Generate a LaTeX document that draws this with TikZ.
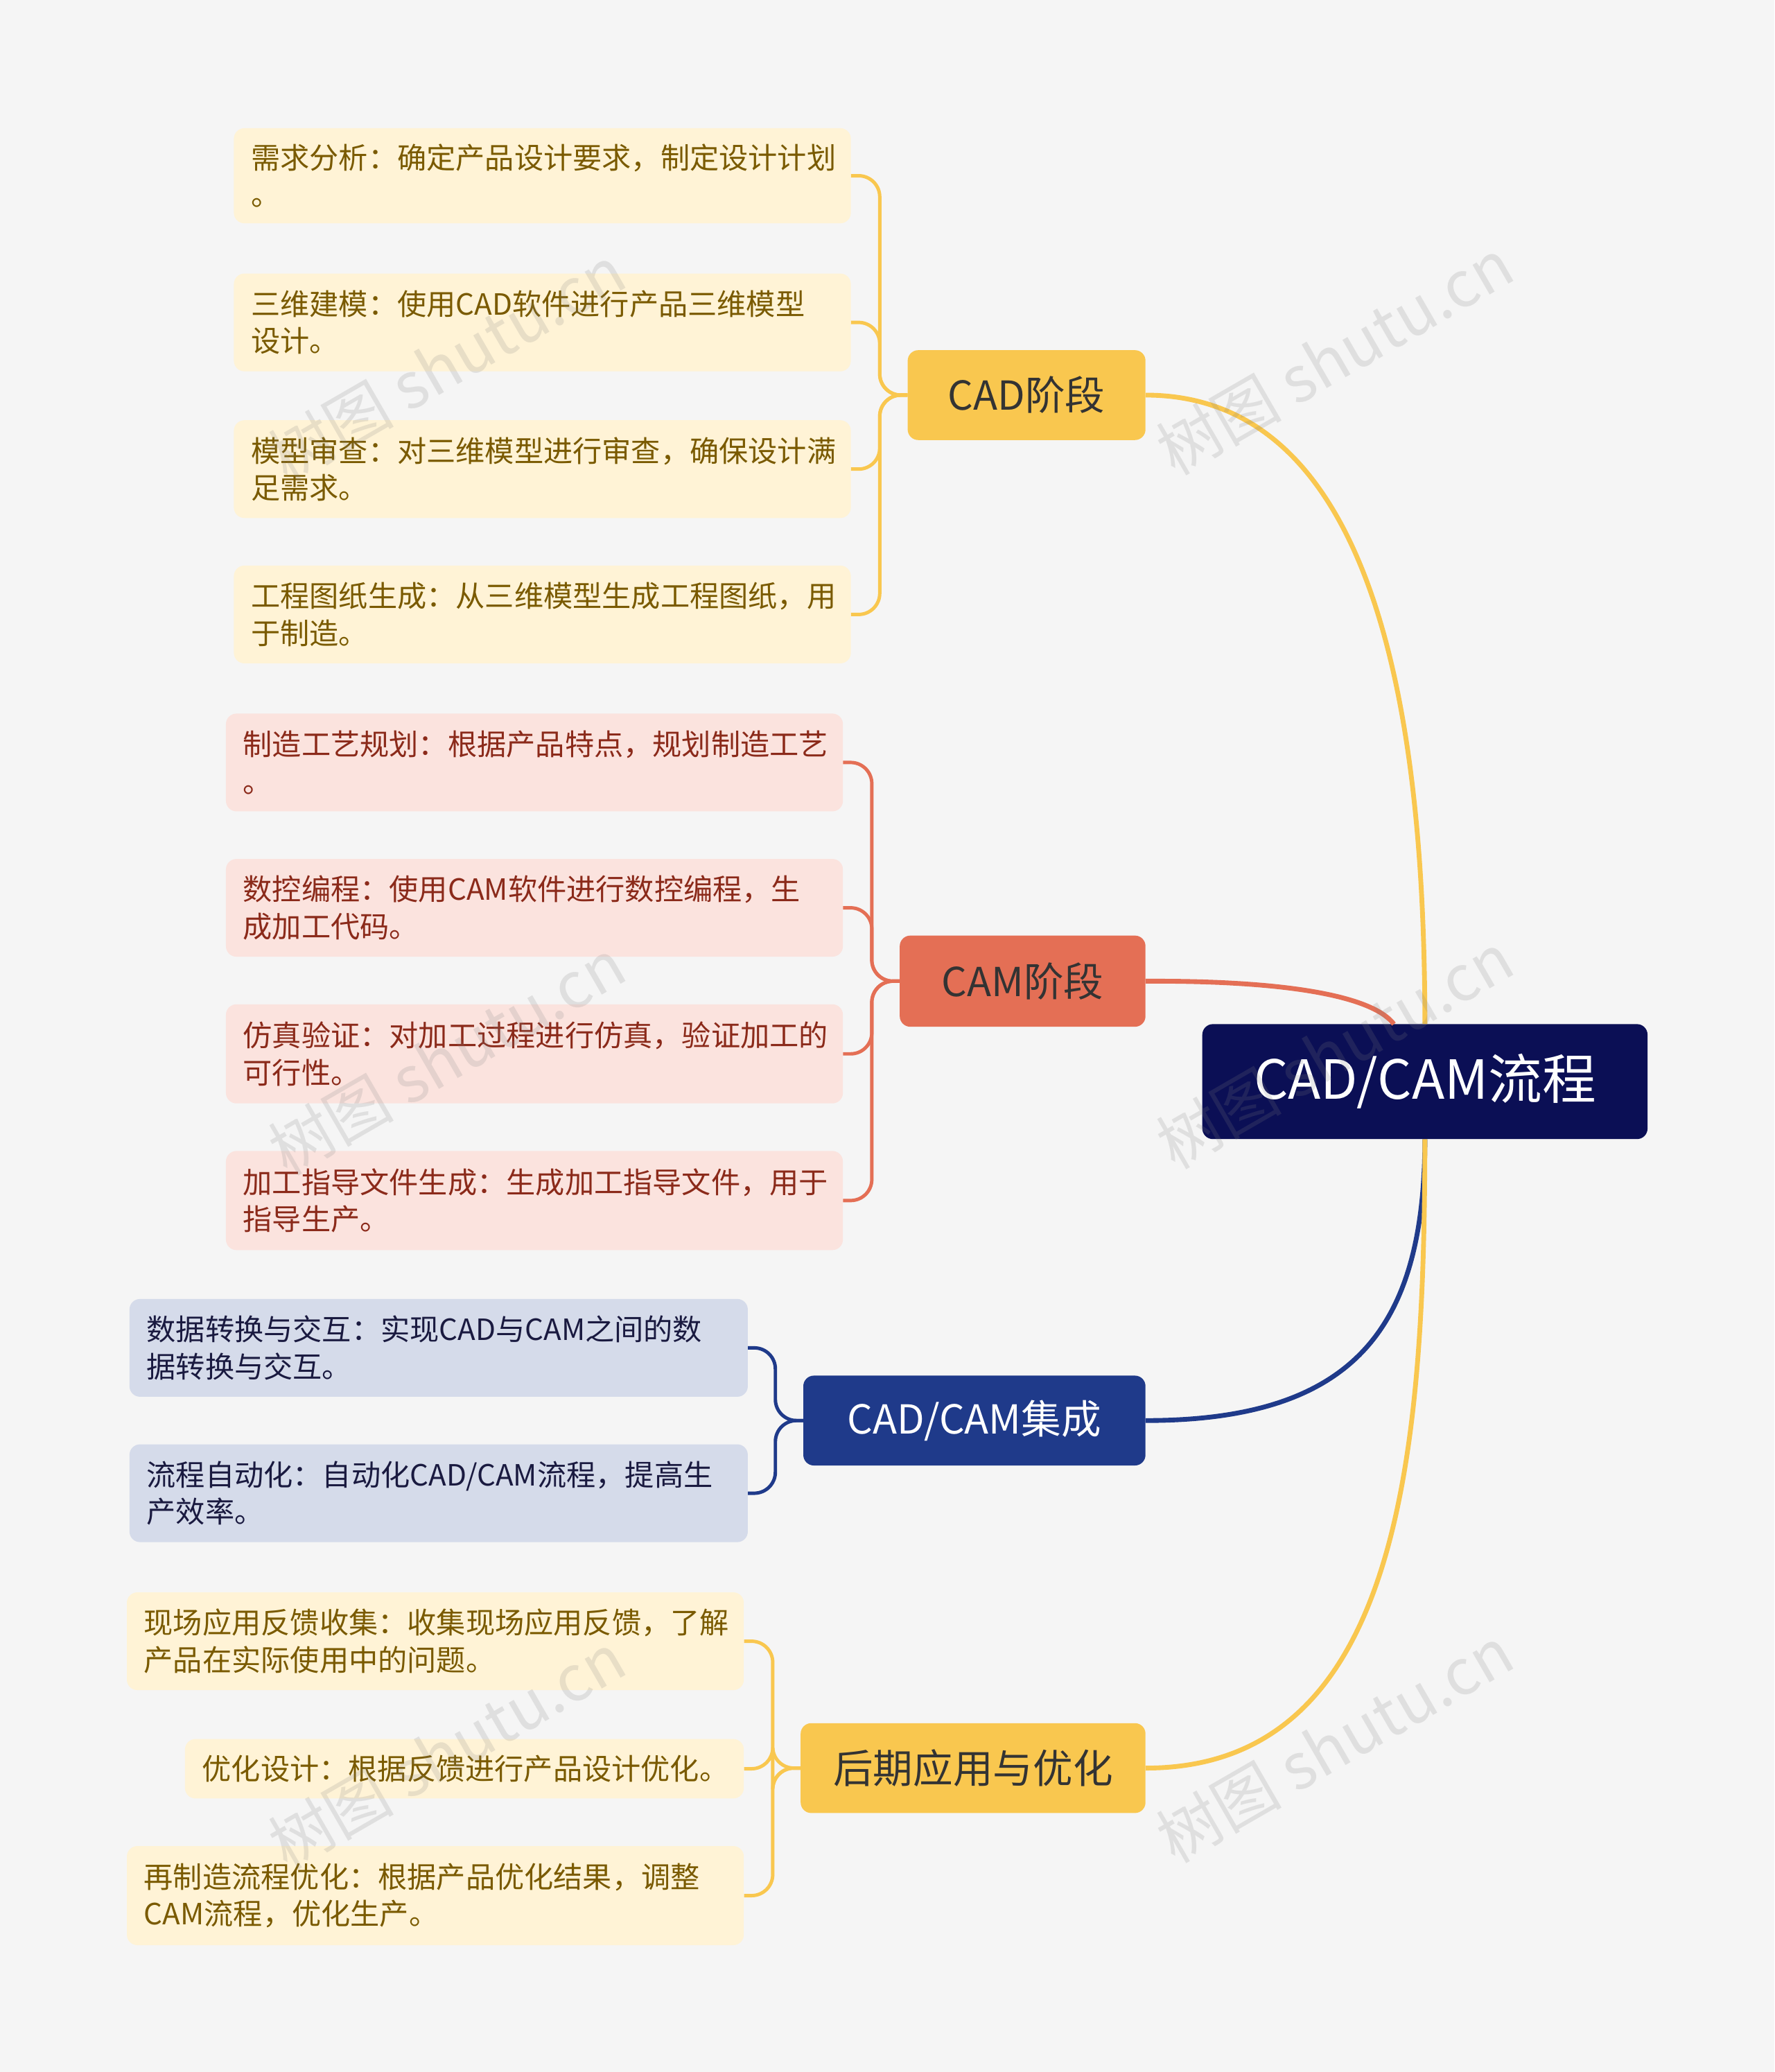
\documentclass[tikz,border=0pt]{standalone}
\usepackage{fontspec}
\setmainfont{Noto Sans CJK SC}
\definecolor{bg}{HTML}{F5F5F5}
\definecolor{navy}{HTML}{0B0F55}
\definecolor{yel}{HTML}{F9C74F}
\definecolor{yelL}{HTML}{FFF3D6}
\definecolor{yelT}{HTML}{7A5A00}
\definecolor{red}{HTML}{E46F55}
\definecolor{redL}{HTML}{FBE3DE}
\definecolor{redT}{HTML}{8B2A1A}
\definecolor{blu}{HTML}{1F3A8A}
\definecolor{bluL}{HTML}{D5DBEA}
\definecolor{bluT}{HTML}{1A1A40}
\begin{document}
\begin{tikzpicture}[x=0.05cm,y=-0.05cm,
  box/.style={rounded corners=0.4cm,inner sep=0pt,align=center},
  leaf/.style={rounded corners=0.4cm,inner xsep=0.65cm,inner ysep=0pt,align=left,font=\fontsize{31.5}{40}\selectfont},
  br/.style={box,font=\fontsize{43}{50}\selectfont},
  wm/.style={text=gray,opacity=0.18,rotate=30,font=\fontsize{68}{68}\selectfont},
  ln/.style={line width=0.18cm}]
\fill[bg] (0,0) rectangle (1343,1568);
\useasboundingbox (0,0) rectangle (1343,1568);
% root & branches
\node[box,fill=navy,text=white,minimum width=16.85cm,minimum height=4.35cm,font=\fontsize{58}{60}\selectfont] (root) at (1078.5,818.5) {CAD/CAM流程};
\node[br,fill=yel,text=black!80,minimum width=9cm,minimum height=3.4cm] (cad) at (777,299) {CAD阶段};
\node[br,fill=red,text=black!80,minimum width=9.3cm,minimum height=3.45cm] (cam) at (774,742.5) {CAM阶段};
\node[br,fill=blu,text=white,minimum width=12.95cm,minimum height=3.4cm] (int) at (737.5,1075) {CAD/CAM集成};
\node[br,fill=yel,text=black!80,minimum width=13.05cm,minimum height=3.4cm] (lat) at (736.5,1338) {后期应用与优化};
% root connectors
\draw[ln,yel] (cad.east) .. controls (1060,299) and (1078,600) .. (root.north);
\draw[ln,red] (cam.east) .. controls (980,742) and (1040,755) .. (1055,775);
\draw[ln,blu] (int.east) .. controls (1030,1075) and (1078,1000) .. (root.south);
\draw[ln,yel] (lat.east) .. controls (1060,1338) and (1078,1100) .. (root.south);
% leaves
\newcommand\lf[8]{% name, x1,y1,x2,y2, fill, text, content
  \node[leaf,fill=#6,text=#7,minimum width={(#4-#2)*0.05cm},minimum height={(#5-#3)*0.05cm},text width={(#4-#2)*0.05cm-1.3cm}] (#1) at ({(#2+#4)/2},{(#3+#5)/2}) {#8};}
\lf{a1}{177}{97}{644}{169}{yelL}{yelT}{需求分析：确定产品设计要求，制定设计计划\\。}
\lf{a2}{177}{207}{644}{281}{yelL}{yelT}{三维建模：使用CAD软件进行产品三维模型\\设计。}
\lf{a3}{177}{318}{644}{392}{yelL}{yelT}{模型审查：对三维模型进行审查，确保设计满\\足需求。}
\lf{a4}{177}{428}{644}{502}{yelL}{yelT}{工程图纸生成：从三维模型生成工程图纸，用\\于制造。}
\lf{b1}{171}{540}{638}{614}{redL}{redT}{制造工艺规划：根据产品特点，规划制造工艺\\。}
\lf{b2}{171}{650}{638}{724}{redL}{redT}{数控编程：使用CAM软件进行数控编程，生\\成加工代码。}
\lf{b3}{171}{760}{638}{835}{redL}{redT}{仿真验证：对加工过程进行仿真，验证加工的\\可行性。}
\lf{b4}{171}{871}{638}{946}{redL}{redT}{加工指导文件生成：生成加工指导文件，用于\\指导生产。}
\lf{c1}{98}{983}{566}{1057}{bluL}{bluT}{数据转换与交互：实现CAD与CAM之间的数\\据转换与交互。}
\lf{c2}{98}{1093}{566}{1167}{bluL}{bluT}{流程自动化：自动化CAD/CAM流程，提高生\\产效率。}
\lf{d1}{96}{1205}{563}{1279}{yelL}{yelT}{现场应用反馈收集：收集现场应用反馈，了解\\产品在实际使用中的问题。}
\lf{d2}{140}{1316}{563}{1361}{yelL}{yelT}{优化设计：根据反馈进行产品设计优化。}
\lf{d3}{96}{1397}{563}{1472}{yelL}{yelT}{再制造流程优化：根据产品优化结果，调整\\CAM流程，优化生产。}
% brackets
\foreach \l in {a1,a2,a3,a4}
  \draw[line width=0.13cm,yel,rounded corners=0.8cm] (cad.west) -- ++(-21,0) |- (\l.east);
\foreach \l in {b1,b2,b3,b4}
  \draw[line width=0.13cm,red,rounded corners=0.8cm] (cam.west) -- ++(-21,0) |- (\l.east);
\foreach \l in {c1,c2}
  \draw[line width=0.13cm,blu,rounded corners=0.8cm] (int.west) -- ++(-21,0) |- (\l.east);
\foreach \l in {d1,d2,d3}
  \draw[line width=0.13cm,yel,rounded corners=0.8cm] (lat.west) -- ++(-21,0) |- (\l.east);
% watermarks
\foreach \x/\y [count=\i] in {338/275,1010/270,338/800,1010/795,338/1325,1010/1320}
  \node[wm] (wm\i) at (\x,\y) {树图 shutu.cn};
\end{tikzpicture}
\end{document}
